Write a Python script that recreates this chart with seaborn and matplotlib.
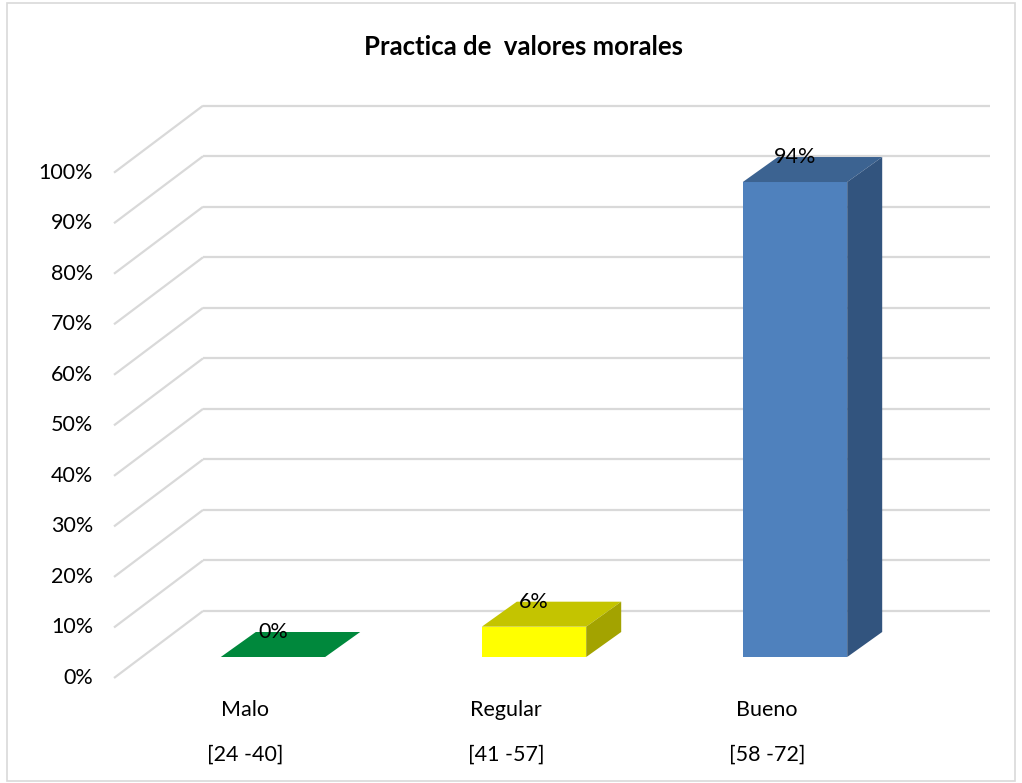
import numpy as np
import pandas as pd
import matplotlib
matplotlib.use("Agg")
import matplotlib.pyplot as plt
import seaborn as sns

# ---- data ----
categories = ["Malo", "Regular", "Bueno"]
ranges = ["[24 -40]", "[41 -57]", "[58 -72]"]
values = [0, 6, 94]
ticks = [0, 10, 20, 30, 40, 50, 60, 70, 80, 90, 100]
title = "Practica de  valores morales"

front_colors = ["#00883C", "#FFFF00", "#4F81BD"]
top_colors = ["#00883C", "#C4C400", "#3C6391"]
side_colors = ["#006B2F", "#A3A300", "#32547E"]

sns.set_theme(style="white")
plt.rcParams["font.family"] = ["Lato", "DejaVu Sans"]

W, H = 1022, 783
fig = plt.figure(figsize=(W / 100, H / 100), dpi=100)
ax = fig.add_axes([0, 0, 1, 1])

# pixel <-> data mapping helpers (layout only)
x0_px, sx = 273.0, 261.0
y0_px, sy = 657.0, 5.053
def X(px):
    return (px - x0_px) / sx
def Y(py):
    return (y0_px - py) / sy

df = pd.DataFrame({"cat": categories, "val": values})
sns.barplot(data=df, x="cat", y="val", hue="cat", palette=front_colors,
            width=0.4, linewidth=0, legend=False, ax=ax, zorder=3,
            saturation=1)

bw = 0.4
bdx, bdy = 35 / sx, 25 / sy          # bar depth
fdx, fdy = -28 / sx, -21 / sy        # front wall offset from bar plane
Ddx, Ddy = 89 / sx, 67 / sy          # full wall depth
left_front = X(114)
right_back = X(990)

fs = 15.5
grid_c = "#D9D9D9"
for t in ticks:
    yf = t + fdy
    xb = left_front + Ddx
    yb = yf + Ddy
    ax.plot([left_front, xb], [yf, yb], color=grid_c, lw=1.6, zorder=0,
            solid_capstyle="butt")
    ax.plot([xb, right_back], [yb, yb], color=grid_c, lw=1.6, zorder=0,
            solid_capstyle="butt")
    ax.text(X(93), yf, f"{t}%", ha="right", va="center", fontsize=fs,
            color="black")

for i, v in enumerate(values):
    xl, xr = i - bw / 2, i + bw / 2
    top = [(xl, v), (xr, v), (xr + bdx, v + bdy), (xl + bdx, v + bdy)]
    ax.add_patch(plt.Polygon(top, closed=True, facecolor=top_colors[i],
                             edgecolor="none", zorder=3))
    if v > 0:
        side = [(xr, 0), (xr + bdx, bdy), (xr + bdx, v + bdy), (xr, v)]
        ax.add_patch(plt.Polygon(side, closed=True, facecolor=side_colors[i],
                                 edgecolor="none", zorder=3))
    ax.text(i, v + bdy, f"{v}%", ha="center", va="center", fontsize=fs,
            color="black", zorder=5)
    ax.text(i + fdx, Y(710), categories[i], ha="center", va="center",
            fontsize=fs, color="black")
    ax.text(i + fdx, Y(755), ranges[i], ha="center", va="center",
            fontsize=fs, color="black")

ax.set_xlim(X(0), X(W))
ax.set_ylim(Y(H), Y(0))
ax.axis("off")

fig.text(524 / W, 1 - 47 / H, title, ha="center", va="center",
         fontsize=18.5, fontweight="bold", color="black")

fig.patches.append(plt.Rectangle((7 / W, 2 / H), (1015 - 7) / W, (780 - 2) / H,
                                 transform=fig.transFigure, fill=False,
                                 edgecolor="#D9D9D9", lw=1.2))

fig.savefig("out.png", dpi=100)
